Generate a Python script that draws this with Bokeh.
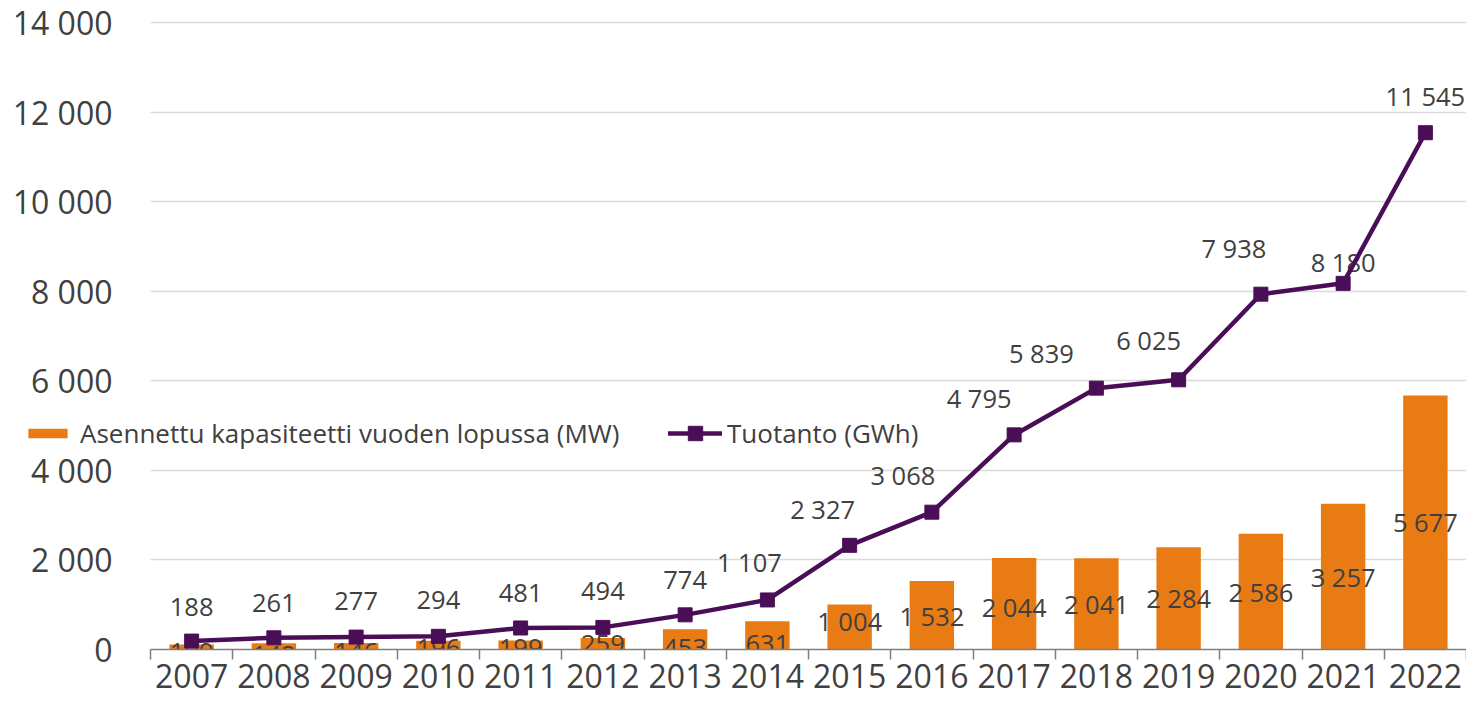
from bokeh.plotting import figure
from bokeh.models import (ColumnDataSource, Range1d, FixedTicker, Legend, LegendItem)
from bokeh.embed import file_html
from bokeh.resources import INLINE

# ---- data ----
years = ["2007", "2008", "2009", "2010", "2011", "2012", "2013", "2014",
         "2015", "2016", "2017", "2018", "2019", "2020", "2021", "2022"]
capacity_mw = [109, 142, 146, 196, 199, 259, 453, 631,
               1004, 1532, 2044, 2041, 2284, 2586, 3257, 5677]
production_gwh = [188, 261, 277, 294, 481, 494, 774, 1107,
                  2327, 3068, 4795, 5839, 6025, 7938, 8180, 11545]
y_ticks = [0, 2000, 4000, 6000, 8000, 10000, 12000, 14000]
y_tick_labels = ["0", "2 000", "4 000", "6 000", "8 000", "10 000", "12 000", "14 000"]
bar_name = "Asennettu kapasiteetti vuoden lopussa (MW)"
line_name = "Tuotanto (GWh)"

# ---- label placement (pixels) ----
line_label_dx = [0, 0, 0, 0, 0, 0, 0, -18, -27, -29, -35, -55, -30, -27, 0, 0]
line_label_dy = [34, 35, 36, 36, 35, 36, 35, 38, 36, 37, 37, 35, 40, 46, 21, 37]
bar_label_dy = [5, 9, 6, 3, 3, 0, 9, 9, -6, 1, 3, 0, 0, 0, 0, 0]

FONT = "Open Sans"
TXT = "#404040"
ORANGE = "#E97B15"
PURPLE = "#4A0E57"

# ---- layout (pixels) ----
W, H = 1466, 697
FRAME_LEFT = 12          # frame starts near the canvas edge (legend lives there)
CAT_LEFT = 150           # where the first category slot begins
FRAME_TOP = 21
FRAME_BOTTOM_BORDER = 48
N = len(years)
px_per_cat = (W - CAT_LEFT) / N
x_start = -0.5 - (CAT_LEFT - FRAME_LEFT) / px_per_cat

def fmt(v):
    return f"{v:,}".replace(",", " ")

xs = list(range(N))
src = ColumnDataSource(dict(
    x=xs,
    cap=capacity_mw,
    cap_mid=[v / 2 for v in capacity_mw],
    cap_lbl=[fmt(v) for v in capacity_mw],
    cap_dy=bar_label_dy,
    prod=production_gwh,
    prod_lbl=[fmt(v) for v in production_gwh],
    prod_dx=line_label_dx,
    prod_dy=[-d for d in line_label_dy],
))

p = figure(width=W, height=H, output_backend="svg", toolbar_location=None,
           x_range=Range1d(x_start, N - 0.5), y_range=Range1d(0, 14030),
           min_border_left=FRAME_LEFT, min_border_right=0, min_border_top=FRAME_TOP,
           min_border_bottom=FRAME_BOTTOM_BORDER)
p.outline_line_color = None
p.background_fill_color = "white"

# grid
p.xgrid.grid_line_color = None
p.ygrid.ticker = FixedTicker(ticks=y_ticks)
p.ygrid.grid_line_color = "#d9d9d9"
p.ygrid.grid_line_width = 1.3
try:
    p.ygrid.cross_bounds = (-0.5, N - 0.5)
except Exception:
    p.ygrid.grid_line_color = None
    p.segment(x0=[-0.5] * len(y_ticks), x1=[N - 0.5] * len(y_ticks),
              y0=y_ticks, y1=y_ticks, line_color="#d9d9d9", line_width=1.3,
              level="underlay")

# y axis (labels pushed right of the frame edge)
p.yaxis.ticker = FixedTicker(ticks=y_ticks)
p.yaxis.major_label_overrides = {t: l for t, l in zip(y_ticks, y_tick_labels)}
p.yaxis.axis_line_color = None
p.yaxis.major_tick_line_color = None
p.yaxis.minor_tick_line_color = None
p.yaxis.major_tick_out = 0
p.yaxis.major_tick_in = 0
p.yaxis.major_label_standoff = -(112 - FRAME_LEFT)
p.yaxis.major_label_text_font = FONT
p.yaxis.major_label_text_font_size = "32px"
p.yaxis.major_label_text_color = TXT

# x axis: labels at centres, ticks at category boundaries
p.xaxis.bounds = (-0.5, N - 0.5)
p.xaxis.ticker = FixedTicker(ticks=xs, minor_ticks=[i - 0.5 for i in range(N + 1)])
p.xaxis.major_label_overrides = {i: y for i, y in zip(xs, years)}
p.xaxis.axis_line_color = "#7f7f7f"
p.xaxis.axis_line_width = 1.5
p.xaxis.major_tick_line_color = None
p.xaxis.major_tick_out = 0
p.xaxis.major_tick_in = 0
p.xaxis.minor_tick_line_color = "#7f7f7f"
p.xaxis.minor_tick_line_width = 1.5
p.xaxis.minor_tick_out = 10
p.xaxis.minor_tick_in = 0
p.xaxis.major_label_standoff = 4
p.xaxis.major_label_text_line_height = 1.0
p.xaxis.major_label_text_font = FONT
p.xaxis.major_label_text_font_size = "32px"
p.xaxis.major_label_text_color = TXT

# bars
bars = p.vbar(x="x", top="cap", width=0.54, source=src, fill_color=ORANGE,
              line_color=None)
p.text(x="x", y="cap_mid", text="cap_lbl", y_offset="cap_dy", source=src,
       text_align="center", text_baseline="middle", text_font={"value": FONT},
       text_font_size="25.5px", text_color=TXT)

# line labels
p.text(x="x", y="prod", text="prod_lbl", x_offset="prod_dx", y_offset="prod_dy",
       source=src, text_align="center", text_baseline="middle",
       text_font={"value": FONT}, text_font_size="25.5px", text_color=TXT)

# line
ln = p.line(x="x", y="prod", source=src, line_color=PURPLE, line_width=4.5,
            line_join="round", line_cap="round")
mk = p.scatter(x="x", y="prod", source=src, marker="square", size=14,
               fill_color=PURPLE, line_color=PURPLE)

common = dict(border_line_color=None, background_fill_alpha=0, padding=0,
              margin=0, spacing=0, label_text_font=FONT,
              label_text_font_size="26px", label_text_color=TXT)
leg1 = Legend(items=[LegendItem(label=bar_name, renderers=[bars])],
              location=(23 - FRAME_LEFT, 198), glyph_width=49, glyph_height=12,
              label_standoff=8, **common)
leg2 = Legend(items=[LegendItem(label=line_name, renderers=[ln, mk])],
              location=(668 - FRAME_LEFT, 198), glyph_width=54, glyph_height=36,
              label_standoff=5, **common)
p.add_layout(leg1)
p.add_layout(leg2)

open("out.html", "w").write(file_html(p, INLINE))
